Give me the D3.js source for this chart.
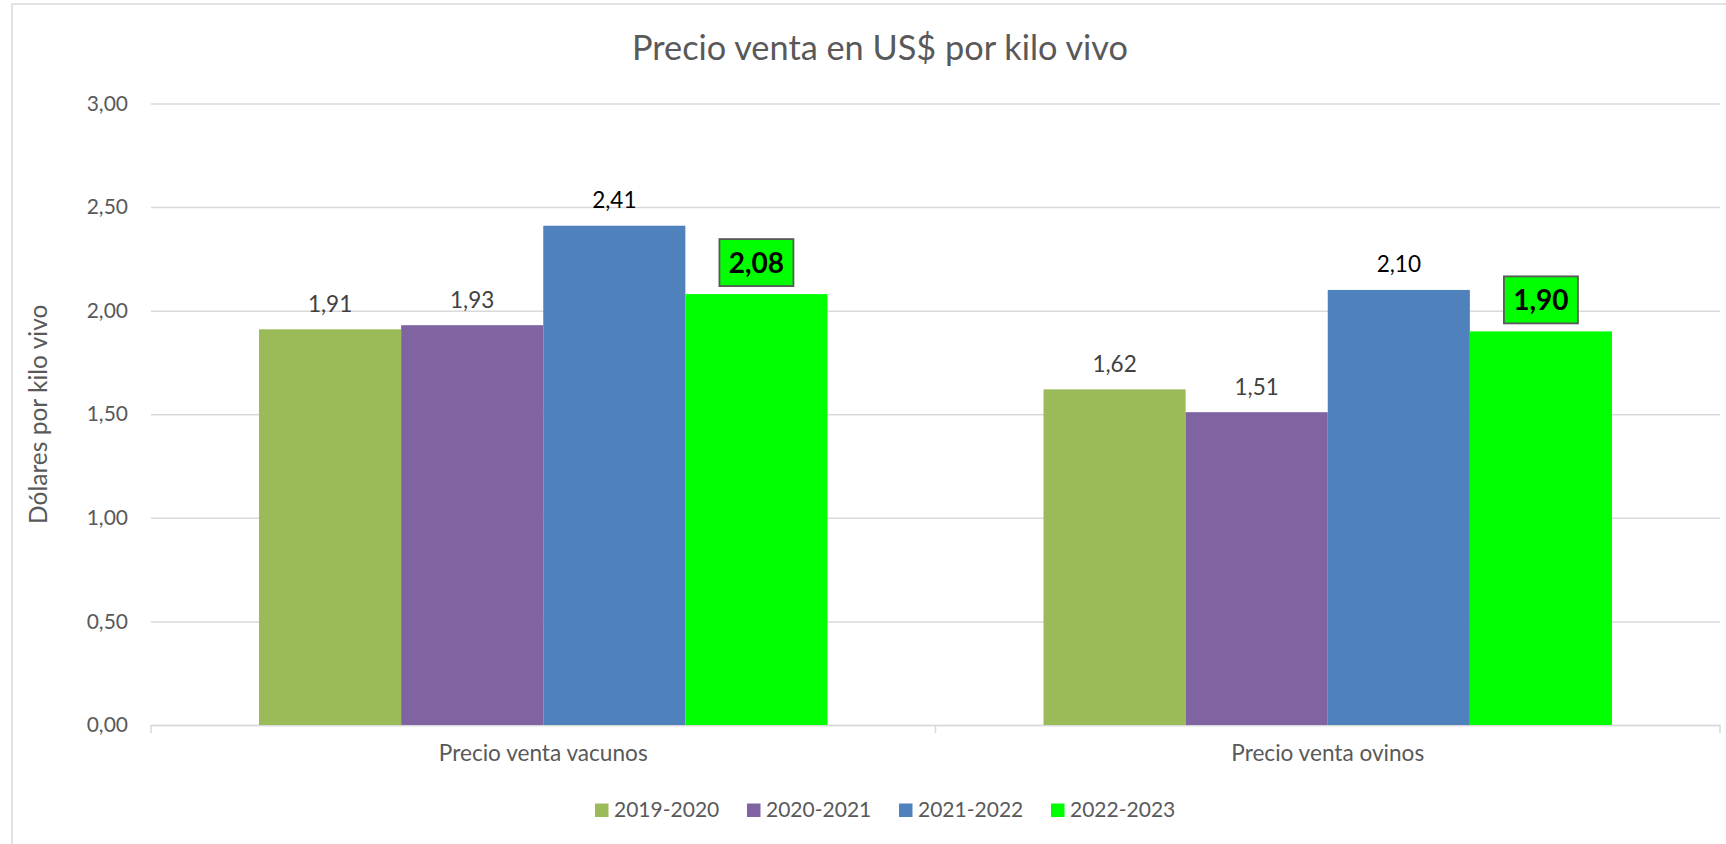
<!DOCTYPE html>
<html>
<head>
<meta charset="utf-8">
<script src="https://cdn.jsdelivr.net/npm/d3@7"></script>
<style>
  html, body { margin: 0; padding: 0; background: #fff; }
  svg { display: block; }
  text { font-family: Lato, "Open Sans", sans-serif; }
</style>
</head>
<body>
<svg id="chart" width="1726" height="844"></svg>
<script>
// Price per kilo (live weight), US$, by season
const categories = ["Precio venta vacunos", "Precio venta ovinos"];
const seasons = ["2019-2020", "2020-2021", "2021-2022", "2022-2023"];
const values2019 = [1.91, 1.62];
const values2020 = [1.93, 1.51];
const values2021 = [2.41, 2.10];
const values2022 = [2.08, 1.90];
const yTicks = [0, 0.5, 1, 1.5, 2, 2.5, 3];
const seasonColors = ["#9BBB59", "#8064A2", "#4F81BD", "#00FF00"];
const labelColors = ["#404040", "#404040", "#000000", "#000000"];

const seriesValues = [values2019, values2020, values2021, values2022];
const rows = [];
seasons.forEach((s, si) => {
  categories.forEach((c, ci) => {
    rows.push({ season: s, si, category: c, value: seriesValues[si][ci] });
  });
});

const locale = d3.formatLocale({ decimal: ",", thousands: ".", grouping: [3], currency: ["US$", ""] });
const fmt = locale.format(".2f");

const svg = d3.select("#chart");
const plot = { left: 151, right: 1720, top: 103.5, bottom: 725 };

// chart frame
svg.append("rect")
  .attr("x", 12).attr("y", 4)
  .attr("width", 1740).attr("height", 860)
  .attr("fill", "#fff").attr("stroke", "#D9D9D9").attr("stroke-width", 1.5);

const y = d3.scaleLinear().domain([0, 3]).range([plot.bottom, plot.top]);
const x0 = d3.scaleBand().domain(categories).range([plot.left, plot.right]).paddingInner(0).paddingOuter(0);
const x1 = d3.scaleBand().domain(seasons).range([0, x0.bandwidth()]).paddingInner(0).paddingOuter(0.76);

// y axis with gridlines
const yAxis = svg.append("g")
  .attr("transform", `translate(${plot.left},0)`)
  .call(d3.axisLeft(y).tickValues(yTicks).tickFormat(fmt)
    .tickSize(-(plot.right - plot.left)).tickPadding(23));
yAxis.select(".domain").remove();
yAxis.selectAll(".tick line").attr("stroke", "#D9D9D9").attr("stroke-width", 1.5);
yAxis.selectAll(".tick text")
  .attr("fill", "#595959").style("font-size", "21px");

// category axis
const xAxis = svg.append("g")
  .attr("transform", `translate(0,${plot.bottom})`)
  .call(d3.axisBottom(x0).tickSize(0).tickPadding(20));
xAxis.select(".domain").attr("stroke", "#D9D9D9").attr("stroke-width", 1.5);
xAxis.selectAll(".tick text").attr("fill", "#595959").style("font-size", "22.6px");

// category boundary ticks
const bounds = categories.map(c => x0(c)).concat([x0(categories[categories.length - 1]) + x0.bandwidth()]);
svg.append("g").selectAll("line").data(bounds).join("line")
  .attr("x1", d => d).attr("x2", d => d)
  .attr("y1", plot.bottom).attr("y2", plot.bottom + 8)
  .attr("stroke", "#D9D9D9").attr("stroke-width", 1.5);

// bars
svg.append("g").selectAll("rect").data(rows).join("rect")
  .attr("x", d => x0(d.category) + x1(d.season))
  .attr("y", d => y(d.value))
  .attr("width", x1.bandwidth())
  .attr("height", d => y(0) - y(d.value))
  .attr("fill", d => seasonColors[d.si]);

// value labels
const plain = rows.filter(d => d.si < 3);
svg.append("g").selectAll("text").data(plain).join("text")
  .attr("x", d => x0(d.category) + x1(d.season) + x1.bandwidth() / 2)
  .attr("y", d => y(d.value) - 17.5)
  .attr("text-anchor", "middle")
  .attr("fill", d => labelColors[d.si])
  .style("font-size", "22.5px")
  .text(d => fmt(d.value));

// highlighted labels for the latest season
const boxed = rows.filter(d => d.si === 3);
const bg = svg.append("g").selectAll("g").data(boxed).join("g")
  .attr("transform", d => `translate(${x0(d.category) + x1(d.season) + x1.bandwidth() / 2},${y(d.value) - 8})`);
bg.append("rect")
  .attr("x", -37).attr("y", -47)
  .attr("width", 74).attr("height", 47)
  .attr("fill", "#00FF00").attr("stroke", "#595959").attr("stroke-width", 1.8);
bg.append("text")
  .attr("x", 0).attr("y", -13.5)
  .attr("text-anchor", "middle")
  .attr("fill", "#000")
  .style("font-size", "28px").style("font-weight", "bold")
  .text(d => fmt(d.value));

// title
svg.append("text")
  .attr("x", 880).attr("y", 60)
  .attr("text-anchor", "middle")
  .attr("fill", "#595959")
  .style("font-size", "34.3px")
  .text("Precio venta en US$ por kilo vivo");

// y axis title
svg.append("text")
  .attr("transform", `translate(47,${(plot.top + plot.bottom) / 2}) rotate(-90)`)
  .attr("text-anchor", "middle")
  .attr("fill", "#595959")
  .style("font-size", "24.5px")
  .text("Dólares por kilo vivo");

// legend
const step = 152;
const legend = svg.append("g").attr("transform", "translate(595,0)");
const items = legend.selectAll("g").data(seasons).join("g")
  .attr("transform", (d, i) => `translate(${i * step},0)`);
items.append("rect")
  .attr("x", 0).attr("y", 803.5).attr("width", 13.5).attr("height", 13.5)
  .attr("fill", (d, i) => seasonColors[i]);
items.append("text")
  .attr("x", 19).attr("y", 817)
  .attr("fill", "#595959")
  .style("font-size", "21px")
  .text(d => d);
</script>
</body>
</html>
